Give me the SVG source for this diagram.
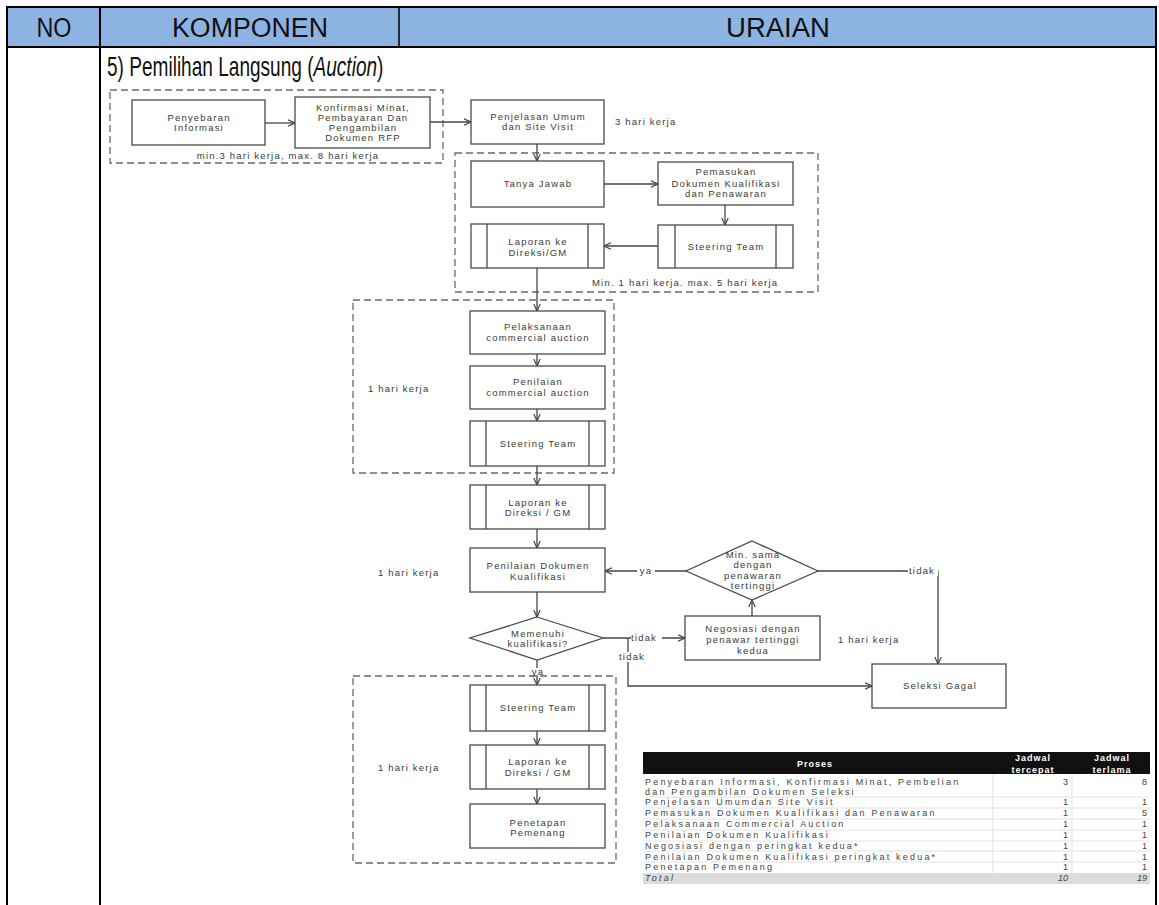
<svg xmlns="http://www.w3.org/2000/svg" width="1159" height="905" viewBox="0 0 1159 905">
  <defs>
    <style>
      .hdr { font-family: "Liberation Sans", Arial, sans-serif; font-size: 27px; fill: #111; text-anchor: middle; }
      .sub { font-family: "Liberation Sans", Arial, sans-serif; font-size: 27px; fill: #111; }
      .frame { stroke: #000; stroke-width: 2; fill: none; }
      .box { fill: #fff; stroke: #4a4a4a; stroke-width: 1.3; }
      .inner { stroke: #4a4a4a; stroke-width: 1.3; }
      .grp { fill: none; stroke: #6a6a6a; stroke-width: 1.3; stroke-dasharray: 7 4; }
      .t { font-family: "Liberation Sans", Arial, sans-serif; font-size: 9.5px; letter-spacing: 1.2px; fill: #3a3a3a; text-anchor: middle; }
      .tl { font-family: "Liberation Sans", Arial, sans-serif; font-size: 9.5px; letter-spacing: 1.2px; fill: #3a3a3a; }
      .lbl { fill: #fff; }
      .edge { fill: none; stroke: #444; stroke-width: 1.3; }
      .tb { font-family: "Liberation Sans", Arial, sans-serif; font-size: 9px; letter-spacing: 2.2px; fill: #444; }
      .tn { font-family: "Liberation Sans", Arial, sans-serif; font-size: 9px; fill: #444; text-anchor: end; }
      .th { font-family: "Liberation Sans", Arial, sans-serif; font-size: 9px; font-weight: bold; fill: #fff; text-anchor: middle; letter-spacing: 1px; }
      .rl { stroke: #e2e2e2; stroke-width: 1; }
    </style>
    <marker id="arr" viewBox="0 0 8 8" refX="7.5" refY="4" markerWidth="8" markerHeight="8" markerUnits="userSpaceOnUse" orient="auto">
      <path d="M0.5,0.8 L7.5,4 L0.5,7.2" fill="none" stroke="#444" stroke-width="1.2"/>
    </marker>
  </defs>

  <rect x="0" y="0" width="1159" height="905" fill="#fff"/>

  <!-- page table: header row and column rules -->
  <g id="table-frame">
    <rect x="7" y="7" width="1149" height="40" fill="#8db3e2"/>
    <line class="frame" x1="7" y1="7" x2="1156" y2="7"/>
    <line class="frame" x1="7" y1="47" x2="1156" y2="47"/>
    <line class="frame" x1="7" y1="6" x2="7" y2="905"/>
    <line class="frame" x1="100" y1="6" x2="100" y2="905"/>
    <line x1="399" y1="7" x2="399" y2="47" stroke="#000" stroke-width="1.5"/>
    <line class="frame" x1="1156" y1="6" x2="1156" y2="905"/>
    <text class="hdr" x="54" y="37" textLength="35" lengthAdjust="spacingAndGlyphs">NO</text>
    <text class="hdr" x="250" y="37" textLength="156" lengthAdjust="spacingAndGlyphs">KOMPONEN</text>
    <text class="hdr" x="778" y="37" textLength="104" lengthAdjust="spacingAndGlyphs">URAIAN</text>
    <g transform="translate(107,76) scale(0.706,1)">
      <text class="sub" x="0" y="0">5) Pemilihan Langsung (<tspan font-style="italic">Auction</tspan>)</text>
    </g>
  </g>

  <!-- dashed phase groupings -->
  <g id="phases">
    <rect class="grp" x="110" y="90" width="333" height="73"/>
    <text class="t" x="288" y="159">min.3 hari kerja, max. 8 hari kerja</text>
    <text class="tl" x="615" y="125">3 hari kerja</text>
    <rect class="grp" x="455" y="153" width="363" height="139"/>
    <text class="tl" x="592" y="286">Min. 1 hari kerja. max. 5 hari kerja</text>
    <rect class="grp" x="353" y="300" width="261" height="173"/>
    <text class="tl" x="368" y="392">1 hari kerja</text>
    <text class="tl" x="378" y="576">1 hari kerja</text>
    <text class="tl" x="838" y="643">1 hari kerja</text>
    <rect class="grp" x="353" y="676" width="263" height="187"/>
    <text class="tl" x="378" y="771">1 hari kerja</text>
  </g>

  <!-- connectors -->
  <g id="connectors">
    <line class="edge" x1="265" y1="123" x2="295" y2="123" marker-end="url(#arr)"/>
    <line class="edge" x1="430" y1="122" x2="471" y2="122" marker-end="url(#arr)"/>
    <line class="edge" x1="537" y1="144" x2="537" y2="161" marker-end="url(#arr)"/>
    <line class="edge" x1="604" y1="184" x2="658" y2="184" marker-end="url(#arr)"/>
    <line class="edge" x1="725" y1="205" x2="725" y2="225" marker-end="url(#arr)"/>
    <line class="edge" x1="658" y1="246" x2="604" y2="246" marker-end="url(#arr)"/>
    <line class="edge" x1="537" y1="268" x2="537" y2="311" marker-end="url(#arr)"/>
    <line class="edge" x1="537" y1="354" x2="537" y2="366" marker-end="url(#arr)"/>
    <line class="edge" x1="537" y1="409" x2="537" y2="421" marker-end="url(#arr)"/>
    <line class="edge" x1="537" y1="466" x2="537" y2="485" marker-end="url(#arr)"/>
    <line class="edge" x1="537" y1="529" x2="537" y2="548" marker-end="url(#arr)"/>
    <line class="edge" x1="537" y1="592" x2="537" y2="617" marker-end="url(#arr)"/>
    <line class="edge" x1="537" y1="660" x2="537" y2="685" marker-end="url(#arr)"/>
    <line class="edge" x1="603" y1="638" x2="685" y2="638" marker-end="url(#arr)"/>
    <polyline class="edge" points="628,638 628,686 872,686" marker-end="url(#arr)"/>
    <line class="edge" x1="752" y1="616" x2="752" y2="600" marker-end="url(#arr)"/>
    <line class="edge" x1="686" y1="571" x2="605" y2="571" marker-end="url(#arr)"/>
    <polyline class="edge" points="818,571 938,571 938,664" marker-end="url(#arr)"/>
    <line class="edge" x1="537" y1="731" x2="537" y2="745" marker-end="url(#arr)"/>
    <line class="edge" x1="537" y1="789" x2="537" y2="804" marker-end="url(#arr)"/>
    <!-- branch labels -->
    <rect class="lbl" x="637" y="565" width="18" height="11"/>
    <text class="t" x="646" y="574">ya</text>
    <rect class="lbl" x="908" y="565" width="30" height="11"/>
    <text class="tl" x="909" y="574">tidak</text>
    <rect class="lbl" x="631" y="633" width="31" height="10"/>
    <text class="tl" x="631" y="641">tidak</text>
    <rect class="lbl" x="618" y="652" width="32" height="10"/>
    <text class="tl" x="619" y="660">tidak</text>
    <rect class="lbl" x="529" y="668" width="16" height="7"/>
    <text class="t" x="538" y="675">ya</text>
  </g>

  <!-- process nodes -->
  <g id="n-penyebaran">
    <rect class="box" x="132" y="100" width="133" height="45"/>
    <text class="t" x="199" y="121">Penyebaran</text>
    <text class="t" x="199" y="131">Informasi</text>
  </g>
  <g id="n-konfirmasi">
    <rect class="box" x="295" y="97" width="135" height="51"/>
    <text class="t" x="363" y="111">Konfirmasi Minat,</text>
    <text class="t" x="363" y="121">Pembayaran Dan</text>
    <text class="t" x="363" y="131">Pengambilan</text>
    <text class="t" x="363" y="141">Dokumen RFP</text>
  </g>
  <g id="n-penjelasan">
    <rect class="box" x="471" y="100" width="133" height="44"/>
    <text class="t" x="538" y="120">Penjelasan Umum</text>
    <text class="t" x="538" y="130">dan Site Visit</text>
  </g>
  <g id="n-tanya">
    <rect class="box" x="471" y="161" width="133" height="46"/>
    <text class="t" x="538" y="187">Tanya Jawab</text>
  </g>
  <g id="n-pemasukan">
    <rect class="box" x="658" y="162" width="135" height="43"/>
    <text class="t" x="726" y="175">Pemasukan</text>
    <text class="t" x="726" y="187">Dokumen Kualifikasi</text>
    <text class="t" x="726" y="197">dan Penawaran</text>
  </g>
  <g id="n-steering-1">
    <rect class="box" x="658" y="225" width="135" height="43"/>
    <line class="inner" x1="675" y1="225" x2="675" y2="268"/>
    <line class="inner" x1="776" y1="225" x2="776" y2="268"/>
    <text class="t" x="726" y="250">Steering Team</text>
  </g>
  <g id="n-laporan-1">
    <rect class="box" x="471" y="224" width="133" height="44"/>
    <line class="inner" x1="487" y1="224" x2="487" y2="268"/>
    <line class="inner" x1="588" y1="224" x2="588" y2="268"/>
    <text class="t" x="538" y="245">Laporan ke</text>
    <text class="t" x="538" y="256">Direksi/GM</text>
  </g>
  <g id="n-pelaksanaan">
    <rect class="box" x="470" y="311" width="135" height="43"/>
    <text class="t" x="538" y="330">Pelaksanaan</text>
    <text class="t" x="538" y="341">commercial auction</text>
  </g>
  <g id="n-penilaian-ca">
    <rect class="box" x="470" y="366" width="135" height="43"/>
    <text class="t" x="538" y="385">Penilaian</text>
    <text class="t" x="538" y="396">commercial auction</text>
  </g>
  <g id="n-steering-2">
    <rect class="box" x="470" y="421" width="135" height="45"/>
    <line class="inner" x1="486" y1="421" x2="486" y2="466"/>
    <line class="inner" x1="589" y1="421" x2="589" y2="466"/>
    <text class="t" x="538" y="447">Steering Team</text>
  </g>
  <g id="n-laporan-2">
    <rect class="box" x="470" y="485" width="135" height="44"/>
    <line class="inner" x1="486" y1="485" x2="486" y2="529"/>
    <line class="inner" x1="589" y1="485" x2="589" y2="529"/>
    <text class="t" x="538" y="506">Laporan ke</text>
    <text class="t" x="538" y="516">Direksi / GM</text>
  </g>
  <g id="n-penilaian-dok">
    <rect class="box" x="470" y="548" width="135" height="44"/>
    <text class="t" x="538" y="569">Penilaian Dokumen</text>
    <text class="t" x="538" y="580">Kualifikasi</text>
  </g>
  <g id="n-memenuhi">
    <polygon class="box" points="537,617 603,638 537,660 470,638"/>
    <text class="t" x="538" y="637">Memenuhi</text>
    <text class="t" x="538" y="647">kualifikasi?</text>
  </g>
  <g id="n-min-sama">
    <polygon class="box" points="752,541 818,571 752,600 686,571"/>
    <text class="t" x="753" y="558">Min. sama</text>
    <text class="t" x="753" y="568">dengan</text>
    <text class="t" x="753" y="579">penawaran</text>
    <text class="t" x="753" y="589">tertinggi</text>
  </g>
  <g id="n-negosiasi">
    <rect class="box" x="685" y="616" width="135" height="44"/>
    <text class="t" x="753" y="632">Negosiasi dengan</text>
    <text class="t" x="753" y="643">penawar tertinggi</text>
    <text class="t" x="753" y="654">kedua</text>
  </g>
  <g id="n-seleksi-gagal">
    <rect class="box" x="872" y="664" width="134" height="44"/>
    <text class="t" x="940" y="689">Seleksi Gagal</text>
  </g>
  <g id="n-steering-3">
    <rect class="box" x="470" y="685" width="135" height="46"/>
    <line class="inner" x1="486" y1="685" x2="486" y2="731"/>
    <line class="inner" x1="589" y1="685" x2="589" y2="731"/>
    <text class="t" x="538" y="711">Steering Team</text>
  </g>
  <g id="n-laporan-3">
    <rect class="box" x="470" y="745" width="135" height="44"/>
    <line class="inner" x1="486" y1="745" x2="486" y2="789"/>
    <line class="inner" x1="589" y1="745" x2="589" y2="789"/>
    <text class="t" x="538" y="765">Laporan ke</text>
    <text class="t" x="538" y="776">Direksi / GM</text>
  </g>
  <g id="n-penetapan">
    <rect class="box" x="470" y="804" width="135" height="44"/>
    <text class="t" x="538" y="826">Penetapan</text>
    <text class="t" x="538" y="836">Pemenang</text>
  </g>

  <!-- schedule summary table -->
  <g id="schedule">
    <rect x="643" y="752" width="507" height="22" fill="#111"/>
    <text class="th" x="815" y="767">Proses</text>
    <text class="th" x="1033" y="761">Jadwal</text>
    <text class="th" x="1033" y="773">tercepat</text>
    <text class="th" x="1112" y="761">Jadwal</text>
    <text class="th" x="1112" y="773">terlama</text>
    <rect x="643" y="873" width="507" height="11" fill="#dcdcdc"/>
    <line class="rl" x1="993" y1="774" x2="993" y2="873"/>
    <line class="rl" x1="1072" y1="774" x2="1072" y2="873"/>
    <line class="rl" x1="643" y1="797" x2="1150" y2="797"/>
    <line class="rl" x1="643" y1="808" x2="1150" y2="808"/>
    <line class="rl" x1="643" y1="819" x2="1150" y2="819"/>
    <line class="rl" x1="643" y1="830" x2="1150" y2="830"/>
    <line class="rl" x1="643" y1="841" x2="1150" y2="841"/>
    <line class="rl" x1="643" y1="851" x2="1150" y2="851"/>
    <line class="rl" x1="643" y1="862" x2="1150" y2="862"/>
    <text class="tb" x="645" y="785">Penyebaran Informasi, Konfirmasi Minat, Pembelian</text>
    <text class="tb" x="645" y="795">dan Pengambilan Dokumen Seleksi</text>
    <text class="tb" x="645" y="805">Penjelasan Umumdan Site Visit</text>
    <text class="tb" x="645" y="816">Pemasukan Dokumen Kualifikasi dan Penawaran</text>
    <text class="tb" x="645" y="827">Pelaksanaan Commercial Auction</text>
    <text class="tb" x="645" y="838">Penilaian Dokumen Kualifikasi</text>
    <text class="tb" x="645" y="849">Negosiasi dengan peringkat kedua*</text>
    <text class="tb" x="645" y="860">Penilaian Dokumen Kualifikasi peringkat kedua*</text>
    <text class="tb" x="645" y="870">Penetapan Pemenang</text>
    <text class="tb" x="645" y="881" font-style="italic">Total</text>
    <text class="tn" x="1068" y="785">3</text>
    <text class="tn" x="1068" y="805">1</text>
    <text class="tn" x="1068" y="816">1</text>
    <text class="tn" x="1068" y="827">1</text>
    <text class="tn" x="1068" y="838">1</text>
    <text class="tn" x="1068" y="849">1</text>
    <text class="tn" x="1068" y="860">1</text>
    <text class="tn" x="1068" y="870">1</text>
    <text class="tn" x="1068" y="881" font-style="italic">10</text>
    <text class="tn" x="1147" y="785">8</text>
    <text class="tn" x="1147" y="805">1</text>
    <text class="tn" x="1147" y="816">5</text>
    <text class="tn" x="1147" y="827">1</text>
    <text class="tn" x="1147" y="838">1</text>
    <text class="tn" x="1147" y="849">1</text>
    <text class="tn" x="1147" y="860">1</text>
    <text class="tn" x="1147" y="870">1</text>
    <text class="tn" x="1147" y="881" font-style="italic">19</text>
  </g>
</svg>
